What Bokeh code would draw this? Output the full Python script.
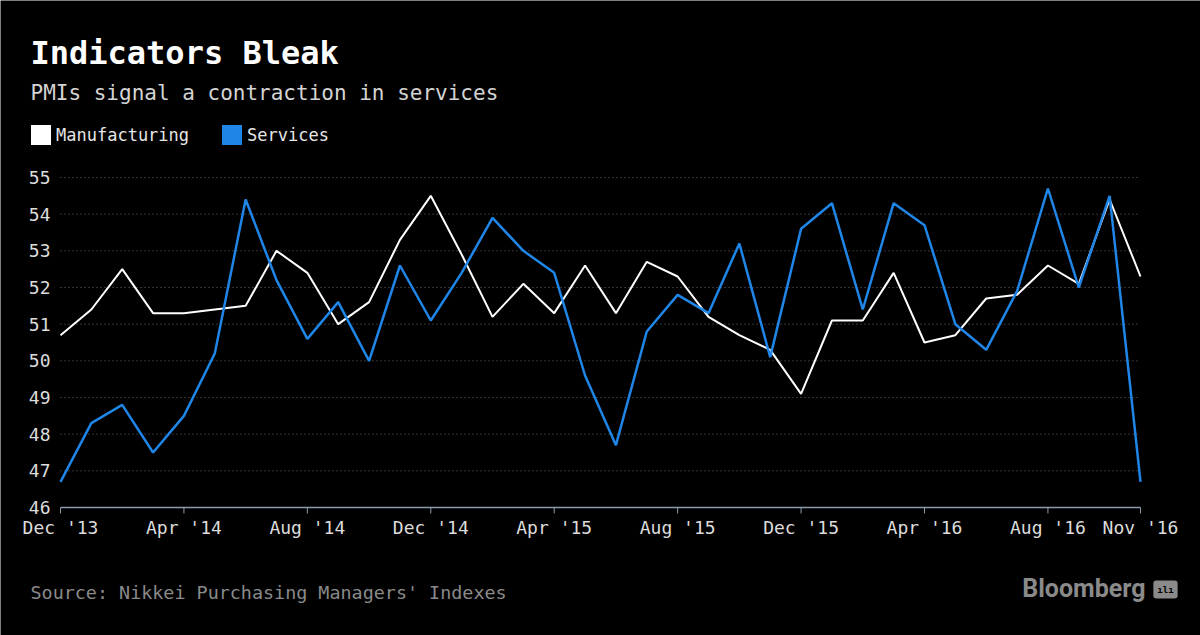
from bokeh.plotting import figure
from bokeh.models import Range1d, Label, Legend, LegendItem, ColumnDataSource
from bokeh.core.properties import value
from bokeh.embed import file_html
from bokeh.resources import INLINE

# Monthly Nikkei PMI readings, Dec 2013 - Nov 2016
months = ["Dec '13", "Jan '14", "Feb '14", "Mar '14", "Apr '14", "May '14", "Jun '14",
          "Jul '14", "Aug '14", "Sep '14", "Oct '14", "Nov '14", "Dec '14",
          "Jan '15", "Feb '15", "Mar '15", "Apr '15", "May '15", "Jun '15",
          "Jul '15", "Aug '15", "Sep '15", "Oct '15", "Nov '15", "Dec '15",
          "Jan '16", "Feb '16", "Mar '16", "Apr '16", "May '16", "Jun '16",
          "Jul '16", "Aug '16", "Sep '16", "Oct '16", "Nov '16"]
manufacturing = [50.7, 51.4, 52.5, 51.3, 51.3, 51.4, 51.5, 53.0, 52.4, 51.0, 51.6, 53.3,
                 54.5, 52.9, 51.2, 52.1, 51.3, 52.6, 51.3, 52.7, 52.3, 51.2, 50.7, 50.3,
                 49.1, 51.1, 51.1, 52.4, 50.5, 50.7, 51.7, 51.8, 52.6, 52.1, 54.4, 52.3]
services = [46.7, 48.3, 48.8, 47.5, 48.5, 50.2, 54.4, 52.2, 50.6, 51.6, 50.0, 52.6,
            51.1, 52.4, 53.9, 53.0, 52.4, 49.6, 47.7, 50.8, 51.8, 51.3, 53.2, 50.1,
            53.6, 54.3, 51.4, 54.3, 53.7, 51.0, 50.3, 51.9, 54.7, 52.0, 54.5, 46.7]
tick_months = ["Dec '13", "Apr '14", "Aug '14", "Dec '14", "Apr '15", "Aug '15",
               "Dec '15", "Apr '16", "Aug '16", "Nov '16"]
y_ticks = [46, 47, 48, 49, 50, 51, 52, 53, 54, 55]

MONO = "DejaVu Sans Mono"
WHITE = "#ffffff"
BLUE = "#1f86e8"
AXIS = "#8d9cad"
LABEL = "#dcdcdc"
BG = "#000000"
W, H = 1200, 635

# plot area inside the canvas (pixels): left, right, top, bottom
L, R, T, B = 60, 1140, 177, 507
n = len(months)
PX = (R - L) / (n - 1)                        # pixels per month
PY = (B - T) / (y_ticks[-1] - y_ticks[0])     # pixels per index point
ymin = y_ticks[0]

p = figure(width=W, height=H, output_backend="svg", toolbar_location=None,
           x_axis_type=None, y_axis_type=None, min_border=0,
           x_range=Range1d(-L / PX, (n - 1) + (W - R) / PX),
           y_range=Range1d(ymin - (H - B) / PY, y_ticks[-1] + T / PY))
p.background_fill_color = BG
p.border_fill_color = BG
p.outline_line_color = None
p.outline_line_alpha = 0
p.outline_line_width = 0
p.grid.visible = False

idx = list(range(n))
src = ColumnDataSource(data=dict(i=idx, m=manufacturing, s=services))
x_first, x_last = idx[0], idx[-1]

# dotted horizontal grid
grid_y = y_ticks[1:]
p.segment(x0=[x_first] * len(grid_y), x1=[x_last] * len(grid_y), y0=grid_y, y1=grid_y,
          line_color="#6a6a6a", line_dash="1 3", line_width=1)

# y tick labels
p.text(x=[x_first - 10 / PX] * len(y_ticks), y=y_ticks, text=[str(t) for t in y_ticks],
       text_font=value(MONO), text_font_size="18px", text_color=LABEL,
       text_align="right", text_baseline="middle")

# x axis: baseline, ticks and month labels
tick_pos = [months.index(t) for t in tick_months]
p.segment(x0=[x_first], x1=[x_last], y0=[ymin], y1=[ymin], line_color=AXIS, line_width=1.5)
p.segment(x0=tick_pos, x1=tick_pos, y0=[ymin] * len(tick_pos),
          y1=[ymin - 6 / PY] * len(tick_pos), line_color=AXIS, line_width=1)
p.text(x=tick_pos, y=[ymin - 9 / PY] * len(tick_pos), text=tick_months,
       text_font=value(MONO), text_font_size="18px", text_color=LABEL,
       text_align="center", text_baseline="top")

# series
p.line("i", "m", source=src, line_color=WHITE, line_width=2)
p.line("i", "s", source=src, line_color=BLUE, line_width=2.5)

# legend with square swatches (degenerate quads act as swatch sources)
sw_m = p.quad(left=[0], right=[0], top=[0], bottom=[0], fill_color=WHITE, line_color=None)
sw_s = p.quad(left=[0], right=[0], top=[0], bottom=[0], fill_color=BLUE, line_color=None)
legend = Legend(items=[LegendItem(label="Manufacturing", renderers=[sw_m]),
                       LegendItem(label="Services", renderers=[sw_s])],
                orientation="horizontal", location=(28, H - 147),
                glyph_width=25, glyph_height=25, label_height=25,
                label_standoff=3, spacing=30, padding=0, margin=0,
                border_line_color=None, background_fill_alpha=0,
                label_text_font=MONO, label_text_font_size="17px",
                label_text_color="#e6e6e6")
p.add_layout(legend, "center")


def add_label(text, x, y, size, color, font=MONO, style="normal", align="left"):
    p.add_layout(Label(x=x, y=y, x_units="screen", y_units="screen", text=text,
                       text_font=font, text_font_size=size, text_color=color,
                       text_font_style=style, text_align=align,
                       text_baseline="alphabetic"))


add_label("Indicators Bleak", 30, 583, "32px", WHITE, style="bold")
add_label("PMIs signal a contraction in services", 30, 543, "21px", "#d4d4d4")
add_label("Source: Nikkei Purchasing Managers' Indexes", 30, 43, "18.4px", "#8a8a8a")
add_label("Bloomberg", 1145, 47, "25px", "#8a8a8a", font="Roboto", style="bold",
          align="right")
p.add_layout(Label(x=1165, y=46, x_units="screen", y_units="screen", text="ılı",
                   text_font=MONO, text_font_size="9px", text_font_style="bold",
                   text_color=BG, text_align="center", text_baseline="alphabetic",
                   background_fill_color="#8a8a8a", border_radius=3, padding=4))

open("out.html", "w").write(file_html(p, INLINE))
